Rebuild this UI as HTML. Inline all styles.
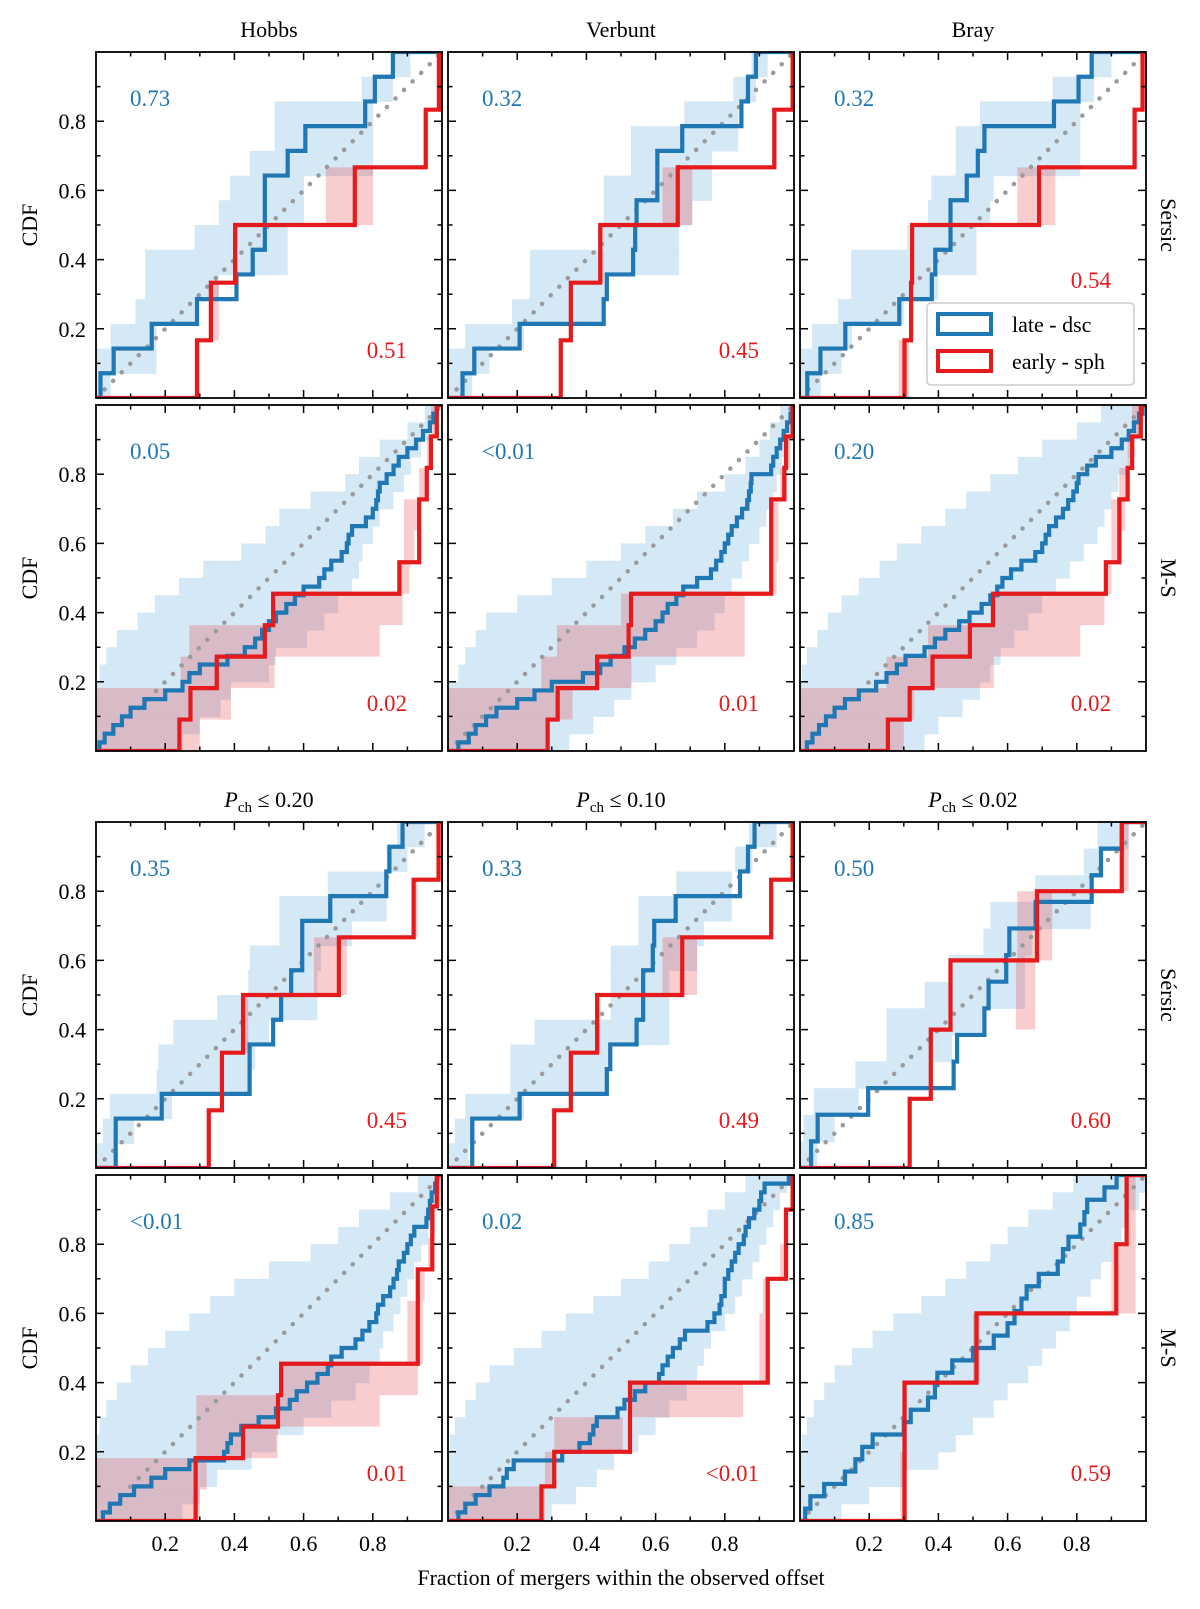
<!DOCTYPE html>
<html><head><meta charset="utf-8"><title>CDF panels</title>
<style>
html,body{margin:0;padding:0;background:#fff;}
svg{display:block;font-family:"Liberation Serif","DejaVu Serif",serif;}
</style></head>
<body>
<svg id="fig" xmlns="http://www.w3.org/2000/svg" width="1200" height="1609" viewBox="0 0 1200 1609">
<rect x="0" y="0" width="1200" height="1609" fill="#fff"/>
<g id="panels"></g>
<g id="labels" font-size="22" fill="#000">
<text x="269" y="37" text-anchor="middle">Hobbs</text>
<text x="621" y="37" text-anchor="middle">Verbunt</text>
<text x="973" y="37" text-anchor="middle">Bray</text>
<text x="269" y="807" text-anchor="middle"><tspan font-style="italic">P</tspan><tspan font-size="15" dy="5">ch</tspan><tspan dy="-5"> ≤ 0.20</tspan></text>
<text x="621" y="807" text-anchor="middle"><tspan font-style="italic">P</tspan><tspan font-size="15" dy="5">ch</tspan><tspan dy="-5"> ≤ 0.10</tspan></text>
<text x="973" y="807" text-anchor="middle"><tspan font-style="italic">P</tspan><tspan font-size="15" dy="5">ch</tspan><tspan dy="-5"> ≤ 0.02</tspan></text>
<text x="621" y="1585" text-anchor="middle">Fraction of mergers within the observed offset</text>
</g>
<g id="legend">
<rect x="927" y="303" width="207" height="82" rx="4" fill="#fff" fill-opacity="0.85" stroke="#cccccc" stroke-width="1.5"/>
<rect x="938" y="314" width="53" height="20" fill="none" stroke="#1f77b4" stroke-width="4"/>
<text x="1012" y="332" font-size="22">late - dsc</text>
<rect x="938" y="351" width="53" height="20" fill="none" stroke="#e41a1c" stroke-width="4"/>
<text x="1012" y="369" font-size="22">early - sph</text>
</g>
</svg>
<script>
// ---- data: x-position (fraction of mergers) at which each CDF step occurs ----
const blueA1=[0.013,0.051,0.161,0.292,0.406,0.453,0.488,0.488,0.488,0.554,0.605,0.778,0.806,0.858];
const redA1=[0.292,0.332,0.402,0.748,0.953,0.991];
const bandBlueLoA1=[0,0,0.042,0.114,0.142,0.142,0.285,0.355,0.387,0.444,0.516,0.516,0.768,0.858];
const bandBlueHiA1=[0.042,0.175,0.175,0.288,0.355,0.554,0.554,0.601,0.601,0.801,0.801,0.801,0.858,0.909];
const bandRedLoA1=[0.285,0.332,0.402,0.664,0.953,0.991];
const bandRedHiA1=[0.3,0.355,0.41,0.801,0.96,1.0];

const blueA2=[0.042,0.076,0.207,0.450,0.459,0.535,0.541,0.545,0.605,0.605,0.677,0.848,0.867,0.890];
const redA2=[0.326,0.355,0.440,0.664,0.943,0.996];
const bandBlueLoA2=[0,0,0.05,0.185,0.237,0.237,0.45,0.45,0.45,0.529,0.529,0.683,0.825,0.877];
const bandBlueHiA2=[0.07,0.12,0.22,0.45,0.459,0.668,0.668,0.706,0.763,0.763,0.839,0.839,0.89,0.924];
const bandRedLoA2=[0.326,0.35,0.44,0.62,0.943,0.996];
const bandRedHiA2=[0.33,0.36,0.45,0.706,0.95,1.0];

const blueA3=[0.021,0.059,0.131,0.287,0.381,0.391,0.435,0.435,0.482,0.514,0.533,0.734,0.805,0.843];
const redA3=[0.302,0.321,0.324,0.691,0.967,0.99];
const bandBlueLoA3=[0,0,0.035,0.11,0.148,0.148,0.31,0.37,0.38,0.45,0.45,0.52,0.73,0.84];
const bandBlueHiA3=[0.06,0.12,0.15,0.30,0.40,0.51,0.51,0.55,0.56,0.81,0.81,0.81,0.85,0.9];
const bandRedLoA3=[0.285,0.318,0.324,0.628,0.967,0.99];
const bandRedHiA3=[0.315,0.325,0.33,0.738,0.975,1.0];

const blueB1=[0.01,0.025,0.05,0.075,0.1,0.14,0.2,0.25,0.27,0.30,0.38,0.43,0.46,0.48,0.5,0.52,0.55,0.575,0.6,0.645,0.66,0.68,0.71,0.725,0.73,0.74,0.78,0.8,0.81,0.815,0.82,0.84,0.86,0.875,0.9,0.925,0.945,0.965,0.975,0.985];
const redB1=[0.241,0.273,0.349,0.488,0.512,0.877,0.934,0.934,0.956,0.968,0.985];
const bandBlueLoB1=[0,0,0,0,0.01,0.03,0.06,0.12,0.17,0.24,0.31,0.42,0.49,0.53,0.62,0.72,0.76,0.82,0.9,0.95];
const bandBlueHiB1=[0.25,0.3,0.36,0.39,0.5,0.52,0.61,0.66,0.7,0.74,0.76,0.77,0.8,0.82,0.86,0.89,0.91,0.94,0.965,0.985];
const bandRedLoB1=[0,0,0.245,0.27,0.516,0.87,0.89,0.89,0.934,0.956,0.968];
const bandRedHiB1=[0.3,0.39,0.516,0.82,0.886,0.906,0.92,0.934,0.956,0.968,0.99];

const blueB2=[0.03,0.06,0.08,0.11,0.14,0.2,0.25,0.3,0.39,0.44,0.47,0.51,0.54,0.57,0.6,0.62,0.635,0.66,0.68,0.72,0.76,0.775,0.79,0.8,0.81,0.82,0.835,0.85,0.865,0.87,0.875,0.877,0.934,0.94,0.95,0.96,0.97,0.98,0.99,0.995];
const redB2=[0.288,0.317,0.431,0.522,0.529,0.934,0.934,0.934,0.972,0.977,0.996];
const bandBlueLoB2=[0,0,0,0,0.03,0.05,0.08,0.11,0.2,0.3,0.4,0.5,0.57,0.65,0.72,0.8,0.86,0.9,0.93,0.96];
const bandBlueHiB2=[0.35,0.42,0.48,0.53,0.6,0.66,0.72,0.77,0.8,0.82,0.85,0.87,0.9,0.92,0.94,0.95,0.965,0.98,0.99,1.0];
const bandRedLoB2=[0,0,0.27,0.315,0.5,0.93,0.93,0.93,0.96,0.975,0.99];
const bandRedHiB2=[0.29,0.36,0.53,0.858,0.858,0.95,0.955,0.955,0.98,0.99,1.0];

const blueB3=[0.02,0.036,0.055,0.075,0.1,0.13,0.17,0.22,0.25,0.28,0.305,0.36,0.39,0.42,0.46,0.49,0.525,0.55,0.57,0.585,0.61,0.64,0.68,0.7,0.71,0.72,0.74,0.76,0.775,0.79,0.8,0.805,0.83,0.855,0.9,0.93,0.95,0.965,0.98,0.99];
const redB3=[0.254,0.317,0.383,0.491,0.558,0.884,0.923,0.923,0.947,0.96,0.985];
const bandBlueLoB3=[0,0,0,0,0.005,0.02,0.05,0.08,0.12,0.17,0.23,0.28,0.35,0.42,0.48,0.55,0.63,0.7,0.8,0.87];
const bandBlueHiB3=[0.36,0.4,0.47,0.52,0.55,0.58,0.62,0.66,0.7,0.74,0.78,0.82,0.86,0.88,0.9,0.92,0.95,0.97,0.99,1.0];
const bandRedLoB3=[0,0,0.25,0.37,0.55,0.88,0.9,0.9,0.923,0.947,0.96];
const bandRedHiB3=[0.3,0.33,0.56,0.81,0.88,0.9,0.93,0.94,0.947,0.96,0.99];

const blueC1=[0.057,0.057,0.19,0.444,0.444,0.512,0.535,0.564,0.596,0.596,0.677,0.839,0.848,0.886];
const redC1=[0.326,0.364,0.425,0.702,0.918,0.99];
const bandBlueLoC1=[0,0.02,0.04,0.175,0.18,0.224,0.35,0.44,0.445,0.53,0.53,0.67,0.84,0.87];
const bandBlueHiC1=[0.06,0.11,0.22,0.45,0.46,0.5,0.64,0.64,0.65,0.74,0.84,0.84,0.9,0.95];
const bandRedLoC1=[0.326,0.36,0.42,0.63,0.918,0.99];
const bandRedHiC1=[0.33,0.37,0.44,0.725,0.93,1.0];

const blueC2=[0.07,0.07,0.207,0.459,0.469,0.545,0.564,0.564,0.592,0.596,0.658,0.844,0.867,0.886];
const redC2=[0.307,0.355,0.431,0.677,0.934,0.996];
const bandBlueLoC2=[0,0.02,0.05,0.18,0.18,0.25,0.47,0.47,0.47,0.55,0.55,0.66,0.83,0.87];
const bandBlueHiC2=[0.06,0.08,0.22,0.46,0.47,0.64,0.64,0.64,0.72,0.74,0.82,0.82,0.88,0.95];
const bandRedLoC2=[0.307,0.355,0.431,0.62,0.934,0.996];
const bandRedHiC2=[0.31,0.36,0.44,0.72,0.94,1.0];

const blueC3=[0.032,0.051,0.197,0.444,0.454,0.533,0.545,0.596,0.605,0.681,0.843,0.87,0.93];
const redC3=[0.317,0.378,0.435,0.685,0.93];
const bandBlueLoC3=[0,0.01,0.04,0.16,0.25,0.25,0.36,0.43,0.53,0.55,0.68,0.82,0.86];
const bandBlueHiC3=[0.05,0.1,0.17,0.38,0.44,0.53,0.65,0.65,0.67,0.84,0.84,0.87,0.95];
const bandRedLoC3=[0.317,0.378,0.624,0.628,0.93];
const bandRedHiC3=[0.32,0.38,0.68,0.729,0.95];

const blueD1=[0.02,0.04,0.07,0.11,0.16,0.2,0.27,0.37,0.38,0.39,0.42,0.47,0.52,0.56,0.58,0.61,0.64,0.67,0.68,0.71,0.75,0.77,0.79,0.81,0.815,0.83,0.85,0.86,0.87,0.875,0.89,0.9,0.91,0.92,0.955,0.96,0.965,0.97,0.98,0.985];
const redD1=[0.288,0.288,0.425,0.526,0.535,0.93,0.93,0.93,0.972,0.972,0.985];
const bandBlueLoD1=[0,0,0,0,0,0.01,0.03,0.06,0.1,0.15,0.2,0.27,0.33,0.4,0.5,0.62,0.7,0.76,0.85,0.93];
const bandBlueHiD1=[0.25,0.3,0.35,0.45,0.52,0.6,0.68,0.75,0.79,0.82,0.83,0.86,0.88,0.9,0.92,0.94,0.96,0.975,0.99,1.0];
const bandRedLoD1=[0,0,0.29,0.29,0.53,0.9,0.9,0.93,0.96,0.97,0.98];
const bandRedHiD1=[0.3,0.32,0.525,0.82,0.93,0.945,0.945,0.95,0.975,0.98,1.0];

const blueD2=[0.03,0.05,0.08,0.12,0.16,0.17,0.19,0.33,0.38,0.41,0.42,0.43,0.49,0.51,0.54,0.57,0.61,0.62,0.635,0.65,0.67,0.685,0.75,0.77,0.785,0.79,0.8,0.8,0.81,0.82,0.83,0.84,0.855,0.86,0.87,0.885,0.9,0.905,0.915,0.985];
const redD2=[0.27,0.307,0.526,0.526,0.924,0.924,0.924,0.977,0.977,0.996];
const bandBlueLoD2=[0,0,0,0,0.005,0.02,0.05,0.08,0.12,0.19,0.27,0.34,0.42,0.5,0.58,0.64,0.7,0.75,0.8,0.86];
const bandBlueHiD2=[0.3,0.37,0.43,0.48,0.55,0.6,0.64,0.69,0.72,0.74,0.76,0.8,0.83,0.85,0.88,0.9,0.92,0.94,0.96,0.98];
const bandRedLoD2=[0,0.28,0.307,0.526,0.9,0.9,0.91,0.96,0.97,0.99];
const bandRedHiD2=[0.28,0.31,0.505,0.853,0.93,0.93,0.93,0.98,0.98,1.0];

const blueD3=[0.015,0.03,0.07,0.13,0.16,0.18,0.21,0.3,0.32,0.37,0.39,0.397,0.44,0.5,0.56,0.6,0.62,0.64,0.655,0.69,0.745,0.76,0.776,0.81,0.822,0.83,0.88,0.915];
const redD3=[0.302,0.302,0.51,0.914,0.944];
const bandBlueLoD3=[0,0,0,0,0.005,0.02,0.04,0.07,0.1,0.15,0.21,0.27,0.35,0.42,0.48,0.55,0.6,0.66,0.73,0.79];
const bandBlueHiD3=[0.12,0.2,0.3,0.4,0.45,0.5,0.56,0.6,0.66,0.7,0.74,0.78,0.8,0.84,0.87,0.9,0.93,0.95,0.98,1.0];
const bandRedLoD3=[0.29,0.3,0.5,0.9,0.94];
const bandRedHiD3=[0.31,0.31,0.52,0.97,0.97];

const pBlue=[["0.73","0.32","0.32"],["0.05","<0.01","0.20"],["0.35","0.33","0.50"],["<0.01","0.02","0.85"]];
const pRed=[["0.51","0.45","0.54"],["0.02","0.01","0.02"],["0.45","0.49","0.60"],["0.01","<0.01","0.59"]];
const yTickLabels=["0.2","0.4","0.6","0.8"];
const xTickLabels=["0.2","0.4","0.6","0.8"];
const rowLabels=["Sérsic","M-S","Sérsic","M-S"];

// ---- layout ----
const colLeft=[96,448,800], rowTop=[52,405,822,1175], PW=346, PH=346;
const panelData=[
 [[blueA1,redA1,bandBlueLoA1,bandBlueHiA1,bandRedLoA1,bandRedHiA1],[blueA2,redA2,bandBlueLoA2,bandBlueHiA2,bandRedLoA2,bandRedHiA2],[blueA3,redA3,bandBlueLoA3,bandBlueHiA3,bandRedLoA3,bandRedHiA3]],
 [[blueB1,redB1,bandBlueLoB1,bandBlueHiB1,bandRedLoB1,bandRedHiB1],[blueB2,redB2,bandBlueLoB2,bandBlueHiB2,bandRedLoB2,bandRedHiB2],[blueB3,redB3,bandBlueLoB3,bandBlueHiB3,bandRedLoB3,bandRedHiB3]],
 [[blueC1,redC1,bandBlueLoC1,bandBlueHiC1,bandRedLoC1,bandRedHiC1],[blueC2,redC2,bandBlueLoC2,bandBlueHiC2,bandRedLoC2,bandRedHiC2],[blueC3,redC3,bandBlueLoC3,bandBlueHiC3,bandRedLoC3,bandRedHiC3]],
 [[blueD1,redD1,bandBlueLoD1,bandBlueHiD1,bandRedLoD1,bandRedHiD1],[blueD2,redD2,bandBlueLoD2,bandBlueHiD2,bandRedLoD2,bandRedHiD2],[blueD3,redD3,bandBlueLoD3,bandBlueHiD3,bandRedLoD3,bandRedHiD3]]
];
const NS="http://www.w3.org/2000/svg";
function mk(tag,attrs,parent){const e=document.createElementNS(NS,tag);for(const k in attrs)e.setAttribute(k,attrs[k]);parent.appendChild(e);return e;}
const root=document.getElementById('panels');
const colNames=['hobbs','verbunt','bray'];

for(let r=0;r<4;r++){
 for(let c=0;c<3;c++){
  const L=colLeft[c],T=rowTop[r];
  const X=v=>L+v*PW, Y=v=>T+PH-v*PH;
  const [blue,red,bLo,bHi,rLo,rHi]=panelData[r][c];
  const g=mk('g',{},root);
  
  
  const cid='clip'+r+c;
  const cp=mk('clipPath',{id:cid},g);
  mk('rect',{x:L,y:T,width:PW,height:PH},cp);
  const inner=mk('g',{'clip-path':'url(#'+cid+')'},g);
  
  
  // blue band
  const mB=bLo.length;
  for(let i=0;i<mB;i++){
   const rr=mk('rect',{x:X(bLo[i]),y:Y((i+1)/mB),width:Math.max(0,X(bHi[i])-X(bLo[i])),height:Y(i/mB)-Y((i+1)/mB)+0.6,fill:'#d5e8f6'},inner);
   
   
  }
  const mR=rLo.length;
  for(let i=0;i<mR;i++){
   const rr=mk('rect',{x:X(rLo[i]),y:Y((i+1)/mR),width:Math.max(0,X(rHi[i])-X(rLo[i])),height:Y(i/mR)-Y((i+1)/mR),fill:'#e41a1c','fill-opacity':0.22},inner);
   
   
  }
  // diagonal
  const dg=mk('line',{x1:X(0),y1:Y(0),x2:X(1),y2:Y(1),stroke:'#9a9a9a','stroke-width':4.5,'stroke-dasharray':'0.1 12','stroke-linecap':'round'},inner);
  
  
  // step curves
  function stepPath(xs){
   const n=xs.length;let d='M'+X(0)+' '+Y(0)+' H'+X(xs[0]);
   for(let k=0;k<n;k++){d+=' V'+Y((k+1)/n)+' H'+(k+1<n?X(xs[k+1]):X(1));}
   return d;
  }
  const bp=mk('path',{d:stepPath(blue),fill:'none',stroke:'#1f77b4','stroke-width':4.2,'stroke-linejoin':'miter'},inner);
  
  
  const rp=mk('path',{d:stepPath(red),fill:'none',stroke:'#e41a1c','stroke-width':4.2,'stroke-linejoin':'miter'},inner);
  
  
  // frame
  const fr=mk('rect',{x:L,y:T,width:PW,height:PH,fill:'none',stroke:'#000','stroke-width':1.8},g);
  
  
  // ticks
  for(let t=1;t<10;t++){
   const v=t/10, len=(t%2===0)?8:4.5;
   const tk=mk('path',{d:'M'+X(v)+' '+(T+PH)+' v'+(-len)+' M'+X(v)+' '+T+' v'+len+' M'+L+' '+Y(v)+' h'+len+' M'+(L+PW)+' '+Y(v)+' h'+(-len),stroke:'#000','stroke-width':1.5},g);
   
   
  }
  if(c===0){
   for(let i=0;i<4;i++){
    const tl=mk('text',{x:L-10,y:Y((i+1)*0.2)+8,'text-anchor':'end','font-size':22},g);
    tl.textContent=yTickLabels[i];
    
    
   }
   const cy=T+PH/2;
   const yl=mk('text',{x:37,y:cy,'text-anchor':'middle','font-size':22,transform:'rotate(-90 37 '+cy+')'},g);
   yl.textContent='CDF';
   
   
  }
  if(c===2){
   const cy=T+PH/2;
   const rl=mk('text',{x:1161,y:cy,'text-anchor':'middle','font-size':22,transform:'rotate(90 1161 '+cy+')'},g);
   rl.textContent=rowLabels[r];
   
   
  }
  if(r===3){
   for(let i=0;i<4;i++){
    const xl=mk('text',{x:X((i+1)*0.2),y:T+PH+30,'text-anchor':'middle','font-size':22},g);
    xl.textContent=xTickLabels[i];
    
    
   }
  }
  const pb=mk('text',{x:L+34,y:T+54,'font-size':23,fill:'#1f77b4'},g);
  pb.textContent=pBlue[r][c];
  
  
  const redY=(r===0&&c===2)?T+236:T+PH-40;
  const pr=mk('text',{x:L+PW-35,y:redY,'font-size':23,fill:'#e41a1c','text-anchor':'end'},g);
  pr.textContent=pRed[r][c];
  
  
 }
}
// legend on top
document.getElementById('fig').appendChild(document.getElementById('legend'));
</script>
</body></html>
